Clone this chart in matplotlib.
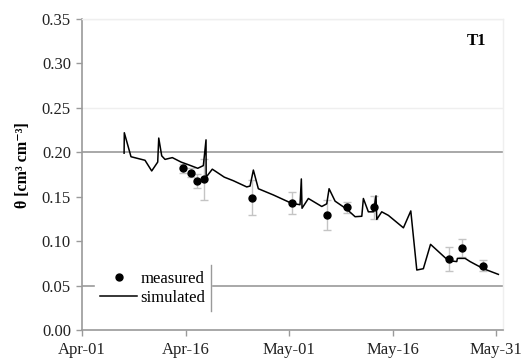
import matplotlib
matplotlib.use("Agg")
import matplotlib.pyplot as plt

plt.rcParams['font.family'] = ['Liberation Serif', 'DejaVu Serif']

# Simulated soil water content (days since Apr-01, theta)
sim_day = [6.10, 6.13, 7.10, 9.13, 10.10, 10.97, 11.12, 11.55, 12.03, 13.09, 14.35,
           15.41, 16.77, 17.58, 17.97, 17.99, 18.88, 20.62, 21.93, 23.87, 24.35,
           24.83, 25.55, 27.72, 30.39, 31.59, 31.78, 31.88, 32.80, 34.74, 35.46,
           35.80, 36.67, 38.36, 39.57, 40.54, 40.77, 41.49, 42.22, 42.60, 42.71,
           43.43, 44.39, 46.57, 47.64, 48.51, 49.46, 50.50, 53.09, 54.30, 54.39,
           55.51, 56.23, 58.16, 60.33]
sim_theta = [0.199, 0.222, 0.195, 0.191, 0.179, 0.189, 0.216, 0.196, 0.192, 0.194, 0.189,
             0.186, 0.182, 0.185, 0.214, 0.172, 0.181, 0.172, 0.168, 0.161, 0.162,
             0.180, 0.159, 0.152, 0.1425, 0.141, 0.170, 0.137, 0.148, 0.139, 0.142,
             0.159, 0.145, 0.136, 0.1275, 0.128, 0.148, 0.133, 0.133, 0.151, 0.1245,
             0.133, 0.129, 0.115, 0.134, 0.0675, 0.069, 0.0964, 0.078, 0.077, 0.0806,
             0.0806, 0.077, 0.069, 0.0626]

# Measured values with standard deviations
meas_day = [14.68, 15.75, 16.62, 17.64, 24.59, 30.48, 35.46, 38.45, 42.32, 53.14, 55.12, 58.07]
meas_theta = [0.182, 0.177, 0.168, 0.1695, 0.149, 0.1425, 0.129, 0.138, 0.138, 0.0795, 0.092, 0.0723]
meas_err = [0.005, 0.005, 0.008, 0.023, 0.020, 0.0125, 0.017, 0.006, 0.013, 0.0135, 0.010, 0.006]

xtick_days = [0, 15, 30, 45, 60]
xtick_labels = ["Apr-01", "Apr-16", "May-01", "May-16", "May-31"]
ytick_vals = [0.00, 0.05, 0.10, 0.15, 0.20, 0.25, 0.30, 0.35]
dark_grid = [0.05, 0.20]
faint_grid = [0.25, 0.35]

fig = plt.figure(figsize=(5.25, 3.64), dpi=100)
ax = fig.add_axes([82/525, 1-330/364, 421/525, 311/364])

for g in faint_grid:
    ax.axhline(g, color="#efefef", lw=1.0, zorder=0)
for g in dark_grid:
    ax.axhline(g, color="#9a9a9a", lw=1.2, zorder=0)

ax.errorbar(meas_day, meas_theta, yerr=meas_err, fmt="none", ecolor="#c4c4c4",
            elinewidth=1.0, capsize=3, capthick=1.0, zorder=2)
ax.plot(sim_day, sim_theta, color="black", lw=1.1, zorder=3, label="simulated")
ax.plot(meas_day, meas_theta, "o", color="black", ms=5, zorder=4, label="measured",
        linestyle="none")

ax.set_xlim(0, 61)
ax.set_ylim(0, 0.35)
ax.set_xticks(xtick_days)
ax.set_xticklabels(xtick_labels)
ax.set_yticks(ytick_vals)
ax.set_yticklabels([f"{v:.2f}" for v in ytick_vals])
ax.tick_params(axis="both", direction="out", length=4, width=1, color="#9a9a9a",
               labelsize=12, labelcolor="#222222")
ax.tick_params(axis="x", pad=5)
ax.tick_params(axis="y", pad=4)

for s in ["left", "bottom"]:
    ax.spines[s].set_color("#9a9a9a")
    ax.spines[s].set_linewidth(1.2)
for s in ["top", "right"]:
    ax.spines[s].set_color("#efefef")
    ax.spines[s].set_linewidth(1.0)

ax.set_ylabel("θ [cm³ cm⁻³]", fontsize=11.5, fontweight="bold")
ax.yaxis.set_label_coords(-0.12, 0.53)

ax.text(0.936, 0.93, "T1", transform=ax.transAxes, fontsize=12, fontweight="bold",
        ha="center", va="center")

handles, labels = ax.get_legend_handles_labels()
order = [1, 0]
leg = ax.legend([handles[i] for i in order], [labels[i] for i in order],
                loc="lower left", bbox_to_anchor=(0.03, 0.06), fontsize=12,
                frameon=True, framealpha=1, facecolor="white", edgecolor="white",
                fancybox=False, handlelength=2.2, handletextpad=0.2,
                borderpad=0.35, labelspacing=0.15, borderaxespad=0)
leg.set_zorder(5)

fig.canvas.draw()
bb = leg.get_window_extent().transformed(ax.transAxes.inverted())
ax.plot([bb.x1, bb.x1], [bb.y0, bb.y1], color="#9a9a9a", lw=1.0,
        transform=ax.transAxes, zorder=6, clip_on=False)

fig.savefig("out.png", dpi=100)
